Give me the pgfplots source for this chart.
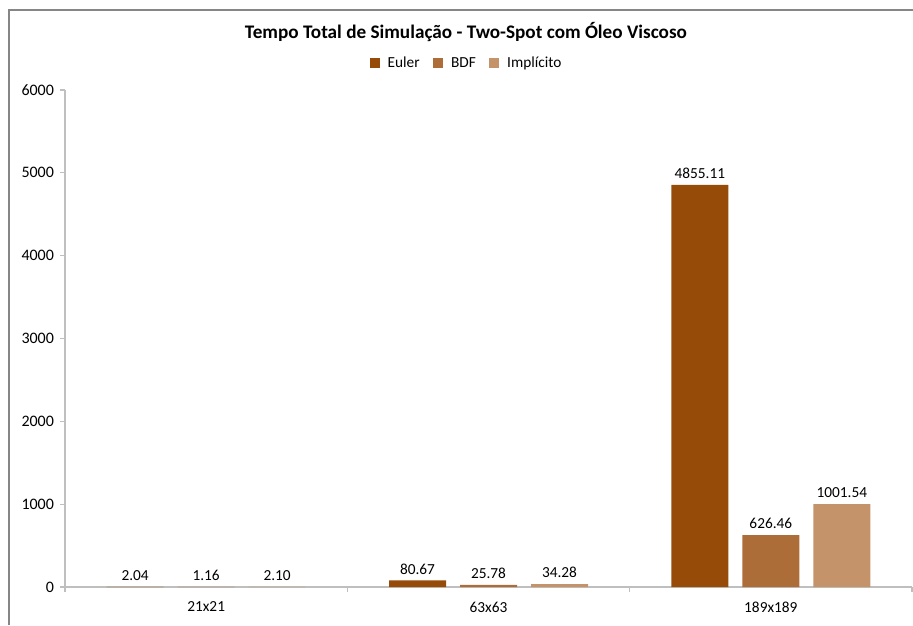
\documentclass[border=0pt]{standalone}
\usepackage{fontspec}
\setmainfont{Carlito}
\usepackage{pgfplots}
\pgfplotsset{compat=1.18}
\definecolor{ceuler}{HTML}{964B08}
\definecolor{cbdf}{HTML}{AC6D39}
\definecolor{cimpl}{HTML}{C4936A}
\definecolor{caxis}{HTML}{BFBFBF}
\definecolor{cframe}{HTML}{868686}

\begin{document}
\begin{tikzpicture}
% picture bounds and chart frame (left and top edges only)
\path[use as bounding box] (-48.75pt,-28.5pt) rectangle (636pt,440.25pt);
\draw[cframe,line width=0.9pt] (-42pt,-28.5pt) -- (-42pt,432.75pt) -- (636pt,432.75pt);
\begin{axis}[
 scale only axis,width=635.25pt,height=372.75pt,
 at={(0,0)},anchor=south west,
 xmin=-0.5,xmax=2.5,ymin=0,ymax=6000,
 ybar=10.5pt,bar width=42.75pt,
 xtick={0,1,2},xticklabels={21x21,63x63,189x189},
 minor xtick={-0.5,0.5,1.5,2.5},
 ytick={0,1000,...,6000},
 axis x line*=bottom,axis y line*=left,
 axis line style={draw=caxis,line width=0.8pt},
 x axis line style={-},y axis line style={-},
 major tick length=3.75pt,minor tick length=3.75pt,
 xtick style={draw=none},minor x tick style={draw=caxis,line width=0.8pt},
 ytick style={draw=caxis,line width=0.8pt},
 tick align=outside,
 /pgf/number format/assume math mode=true,
 /pgf/number format/1000 sep={},
 yticklabel style={font=\fontsize{12}{14}\selectfont,text=black,xshift=-1pt},
 xticklabel style={font=\fontsize{11.5}{13}\selectfont,text=black,yshift=-4pt},
 nodes near coords,
 nodes near coords style={font=\fontsize{11.5}{13}\selectfont,text=black,
   /pgf/number format/fixed,/pgf/number format/fixed zerofill,
   /pgf/number format/precision=2,anchor=south,yshift=1pt},
 title={\bfseries Tempo Total de Simulação - Two-Spot com Óleo Viscoso},
 title style={font=\fontsize{14.4}{17}\selectfont,at={(axis description cs:0.4734,1)},
   anchor=center,yshift=37.5pt},
 legend style={at={(axis description cs:0.4745,1.0525)},anchor=center,
   legend columns=3,draw=none,font=\fontsize{11.5}{13}\selectfont,
   nodes={text height=0.72em,text depth=0.22em},
   /tikz/every odd column/.append style={column sep=4pt},
   /tikz/every even column/.append style={column sep=8pt}},
 legend image code/.code={\fill[#1] (0pt,-3.4pt) rectangle (7.5pt,4.1pt);},
]
\addplot[fill=ceuler,draw=none] coordinates {(0,2.04) (1,80.67) (2,4855.11)};
\addplot[fill=cbdf,draw=none] coordinates {(0,1.16) (1,25.78) (2,626.46)};
\addplot[fill=cimpl,draw=none] coordinates {(0,2.10) (1,34.28) (2,1001.54)};
\legend{Euler,BDF,Implícito}
\end{axis}
\end{tikzpicture}
\end{document}
